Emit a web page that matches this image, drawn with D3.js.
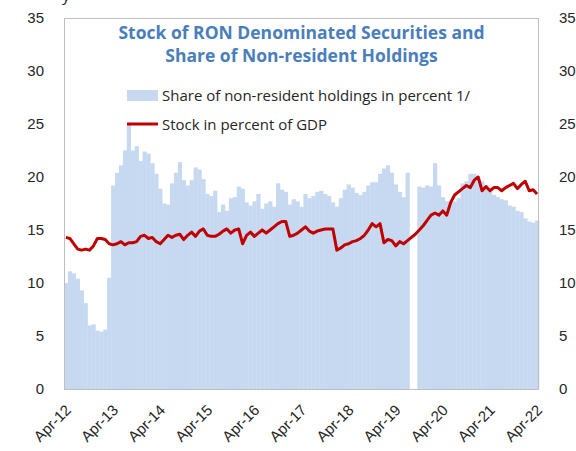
<!DOCTYPE html>
<html lang="en">
<head>
<meta charset="utf-8">
<title>Stock of RON Denominated Securities</title>
<script src="https://cdn.jsdelivr.net/npm/d3@7"></script>
<style>
  body { margin: 0; background: #fff; }
  svg { font-family: "Segoe UI", "Open Sans", "Noto Sans", sans-serif; }
  .tick text { fill: #262626; font-size: 15px; }
</style>
</head>
<body>
<svg width="576" height="451"></svg>
<script>
// monthly categories, Apr-12 .. Apr-22
var months = d3.timeMonth.range(new Date(2012, 3, 1), new Date(2022, 4, 1));
var fmt = d3.timeFormat("%b-%y");
var categories = months.map(fmt);

// share of non-resident holdings in percent (null = no data)
var shareNonResident = [
  10.0, 11.1, 10.9, 10.4, 9.3, 8.1, 6.0, 6.1, 5.5, 5.4, 5.6, 10.5,
  19.2, 20.4, 21.1, 22.5, 24.9, 22.5, 22.9, 21.5, 22.4, 22.2, 21.3, 20.3,
  18.9, 17.5, 17.4, 19.4, 20.4, 21.4,
  19.7, 19.2, 19.7, 20.9, 20.7, 19.8, 18.4, 18.2, 18.7, 16.7, 17.4, 16.8, 18.0, 18.1, 19.1,
  18.9, 17.6, 17.3, 17.7, 18.4, 17.0, 17.5, 17.7, 17.2, 19.4, 18.8, 18.6, 17.4, 17.9, 17.7,
  17.2, 18.4, 18.0, 18.2, 18.6, 18.7, 18.4, 18.2,
  17.6, 17.2, 18.0, 18.8, 19.3, 19.0, 18.5, 18.3, 18.6, 19.2, 19.5, 19.5, 20.3, 20.8, 21.1,
  20.4, 19.3, 18.6, 18.1, 20.4,
  null, null,
  19.1, 19.0, 19.2, 19.1, 21.3, 19.2, 18.1, 17.7, 17.6, 17.7, 18.0, 19.4, 19.6, 20.3, 20.3,
  20.0, 19.6, 19.2, 18.6, 18.3, 18.1, 17.9, 17.8, 17.3, 17.2, 16.8, 16.7, 16.1, 15.8, 15.7, 15.9
];

// stock in percent of GDP
var stockPctGdp = [
  14.3, 14.2, 13.7, 13.2, 13.1, 13.2, 13.1, 13.5, 14.2, 14.2, 14.1, 13.7,
  13.6, 13.7, 13.9, 13.6, 13.8, 13.8, 13.9, 14.4, 14.5, 14.2, 14.3, 13.9,
  13.7, 14.1, 14.5, 14.3, 14.5, 14.6, 14.1, 14.5, 14.8, 14.4, 14.9, 15.1,
  14.5, 14.4, 14.4, 14.6, 14.9, 15.1, 14.7, 15.0, 15.1, 13.7, 14.5, 14.8,
  14.4, 14.7, 15.0, 14.7, 15.0, 15.3, 15.6, 15.8, 15.8, 14.4, 14.5, 14.7,
  15.0, 15.3, 14.9, 14.7, 14.9, 15.0, 15.1, 15.1, 15.1, 13.1, 13.3, 13.6,
  13.7, 13.9, 14.0, 14.2, 14.5, 15.0, 15.6, 15.3, 15.6, 13.8, 14.1, 14.0,
  13.5, 13.9, 13.7, 14.0, 14.3, 14.6, 15.0, 15.4, 15.9, 16.4, 16.6, 16.4,
  16.8, 16.4, 17.6, 18.3, 18.6, 18.9, 19.2, 19.0, 19.7, 20.0, 18.7, 19.1,
  18.7, 19.0, 19.0, 18.7, 19.0, 19.2, 19.4, 18.9, 19.3, 19.6, 18.7, 18.8,
  18.4
];

var yTicks = [0, 5, 10, 15, 20, 25, 30, 35];
var xTickLabels = ["Apr-12", "Apr-13", "Apr-14", "Apr-15", "Apr-16", "Apr-17",
                   "Apr-18", "Apr-19", "Apr-20", "Apr-21", "Apr-22"];

var titleLines = ["Stock of RON Denominated Securities and", "Share of Non-resident Holdings"];
var legendLabels = ["Share of non-resident holdings in percent 1/", "Stock in percent of GDP"];

var plot = {left: 64, right: 539, top: 18, bottom: 389};
var barColor = "#c6d9f1", lineColor = "#c00000";

var svg = d3.select("svg");

var x = d3.scaleBand()
    .domain(categories)
    .range([plot.left, plot.right])
    .padding(0);

var y = d3.scaleLinear()
    .domain([0, 35])
    .range([plot.bottom, plot.top]);

// cut-off text fragment above the chart
svg.append("text")
    .attr("x", 62).attr("y", 1)
    .attr("font-size", 16).attr("fill", "#262626")
    .text("y");

// bars
var data = categories.map(function(c, i) {
  return {cat: c, share: shareNonResident[i], stock: stockPctGdp[i]};
});

svg.append("g").selectAll("rect")
    .data(data.filter(function(d) { return d.share != null; }))
  .enter().append("rect")
    .attr("x", function(d) { return x(d.cat); })
    .attr("y", function(d) { return y(d.share); })
    .attr("width", x.bandwidth() + 0.3)
    .attr("height", function(d) { return y(0) - y(d.share); })
    .attr("fill", barColor);

// line
var line = d3.line()
    .x(function(d) { return x(d.cat) + x.bandwidth() / 2; })
    .y(function(d) { return y(d.stock); });

svg.append("path")
    .datum(data)
    .attr("d", line)
    .attr("fill", "none")
    .attr("stroke", lineColor)
    .attr("stroke-width", 3)
    .attr("stroke-linejoin", "round");

// plot border
svg.append("rect")
    .attr("x", plot.left + 0.5).attr("y", plot.top + 0.5)
    .attr("width", plot.right - plot.left - 1)
    .attr("height", plot.bottom - plot.top)
    .attr("fill", "none")
    .attr("stroke", "#bfbfbf");

// axes
svg.append("g")
    .attr("transform", "translate(" + (plot.left - 17) + ",0)")
    .call(d3.axisLeft(y).tickValues(yTicks).tickSize(0))
    .call(function(g) { g.select(".domain").remove(); });

svg.append("g")
    .attr("transform", "translate(" + (plot.right + 17) + ",0)")
    .call(d3.axisRight(y).tickValues(yTicks).tickSize(0))
    .call(function(g) { g.select(".domain").remove(); });

var xAxis = svg.append("g")
    .attr("transform", "translate(0," + plot.bottom + ")")
    .call(d3.axisBottom(x).tickValues(xTickLabels).tickSize(0))
    .call(function(g) { g.select(".domain").remove(); });

xAxis.selectAll(".tick text")
    .attr("text-anchor", "end")
    .attr("dy", null)
    .attr("y", 0)
    .attr("transform", "translate(6,22) rotate(-45)");

// title
svg.append("g").selectAll("text")
    .data(titleLines)
  .enter().append("text")
    .attr("x", (plot.left + plot.right) / 2)
    .attr("y", function(d, i) { return 39 + i * 23; })
    .attr("text-anchor", "middle")
    .attr("font-size", 17.5)
    .attr("font-weight", "bold")
    .attr("fill", "#4a7ebb")
    .text(function(d) { return d; });

// legend
var legend = svg.append("g");
legend.append("rect")
    .attr("x", 127).attr("y", 90)
    .attr("width", 31).attr("height", 11)
    .attr("fill", barColor);
legend.append("line")
    .attr("x1", 127).attr("x2", 158)
    .attr("y1", 124).attr("y2", 124)
    .attr("stroke", lineColor).attr("stroke-width", 3);
legend.selectAll("text")
    .data(legendLabels)
  .enter().append("text")
    .attr("x", 162)
    .attr("y", function(d, i) { return 101 + i * 29; })
    .attr("font-size", 15)
    .attr("fill", "#262626")
    .text(function(d) { return d; });
</script>
</body>
</html>
